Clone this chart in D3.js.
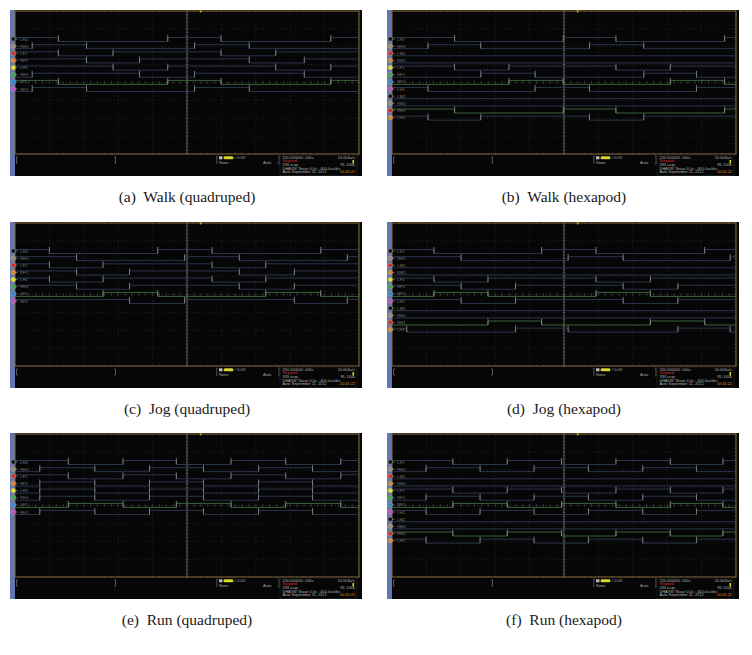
<!DOCTYPE html>
<html><head><meta charset="utf-8">
<script src="https://cdn.jsdelivr.net/npm/d3@7/dist/d3.min.js"></script>
<style>body{margin:0;background:#fff}svg{display:block}</style>
</head><body>
<svg id="c" width="752" height="655"></svg>
<script>
// ---------- DATA ----------
const captions = ["(a)  Walk (quadruped)", "(b)  Walk (hexapod)", "(c)  Jog (quadruped)",
                  "(d)  Jog (hexapod)", "(e)  Run (quadruped)", "(f)  Run (hexapod)"];
const quadLabels = ["LH2", "RH2", "LF1", "RF1", "LH1", "RH1", "LF2", "RF2"];
const hexLabels  = ["LF2", "RH2", "LM1", "RM1", "LF1", "RF1", "RF2", "LH1", "LM2", "RM2", "RH1", "LH2"];
const chanColors = ["#151515", "#9b8b76", "#d42a24", "#e0862a", "#e6e020", "#3aa64a",
                    "#2a8ad6", "#c848c8", "#151515", "#9b8b76", "#d42a24", "#e0862a"];
const quadGreen = [6];
const hexGreen = [6, 10];

// edge times in divisions (0..10); init: 0 = upper level, 1 = lower level
const walkQuadEdges = [[1.26,4.44,5.99,9.18],[0.5,2.08,5.22,6.81],[1.26,2.85,5.99,7.58],[2.08,3.62,6.81,8.41],
                       [2.85,4.44,7.58,9.18],[0.5,3.62,5.22,8.41],[1.26,4.44,5.99,9.18],[0.5,2.08,5.22,6.81]];
const walkQuadInit = [0,1,0,0,0,1,0,1];

const walkHexEdges = [[1.82,4.98,6.51,9.67],[1.05,2.58,5.74,7.32],[],[],[1.82,3.40,6.51,8.09],[2.58,4.16,7.32,8.85],
                      [3.40,4.98,8.09,9.67],[1.05,4.16,5.74,8.85],[],[],[1.82,4.98,6.51,9.67],[1.05,2.58,5.74,7.32]];
const walkHexInit = [0,1,1,1,0,1,1,0,1,1,0,0];

const jogQuadEdges = [[1.0,4.15,5.73,8.89],[1.79,4.93,6.52,9.66],[1.0,2.56,5.73,7.29],[1.79,3.33,6.52,8.12],
                      [1.0,2.56,5.73,7.29],[1.79,3.33,6.52,8.12],[2.56,4.15,7.29,8.89],[3.33,4.93,8.12,9.66]];
const jogQuadInit = [0,0,0,0,0,0,1,0];

const jogHexEdges = [[1.22,4.35,5.93,9.09],[2.01,5.12,6.72,9.83],[],[],[1.22,2.79,5.93,7.51],[2.01,3.59,6.72,8.31],
                     [1.22,2.79,5.93,7.51],[2.01,3.59,6.72,8.31],[],[],[2.79,4.35,7.51,9.09],[0.43,3.59,5.12,8.31,9.83]];
const jogHexInit = [0,0,1,1,0,0,1,0,1,1,1,0];

const runQuadEdges = [[1.55,3.14,4.69,6.28,7.87,9.47],[0.72,2.32,3.91,5.48,7.08,8.65],[1.55,3.14,4.69,6.28,7.87,9.47],
                      [0.72,2.32,3.91,5.48,7.08,8.65],[0.72,2.32,3.91,5.48,7.08,8.65],[0.72,2.32,3.91,5.48,7.08,8.65],
                      [1.55,3.14,4.69,6.28,7.87,9.47],[0.72,2.32,3.91,5.48,7.08,8.65]];
const runQuadInit = [0,1,0,1,1,1,1,1];

const runHexEdges = [[1.77,3.35,4.93,6.51,8.09,9.62],[0.99,2.56,4.13,5.71,7.29,8.85],[],[],
                     [1.77,3.35,4.93,6.51,8.09,9.62],[0.99,2.56,4.13,5.71,7.29,8.85],[1.77,3.35,4.93,6.51,8.09,9.62],
                     [0.99,2.56,4.13,5.71,7.29,8.85],[],[],[1.77,3.35,4.93,6.51,8.09,9.62],[0.99,2.56,4.13,5.71,7.29,8.85]];
const runHexInit = [0,1,1,1,0,1,1,0,1,1,0,0];

const statusLines = ["250.000000 .000s", "Stopped", "333 acqs", "DHAVW      Tbase  0.0s : 400.0us/div", "Auto   September 11, 2012"];
const statusRight = ["10.0kSa/s", "", "RL:100k", "", "10:41:22"];

// ---------- LAYOUT ----------
const panels = [
  {edges: walkQuadEdges, init: walkQuadInit, labels: quadLabels, green: quadGreen, col: 0, row: 0},
  {edges: walkHexEdges,  init: walkHexInit,  labels: hexLabels,  green: hexGreen,  col: 1, row: 0},
  {edges: jogQuadEdges,  init: jogQuadInit,  labels: quadLabels, green: quadGreen, col: 0, row: 1},
  {edges: jogHexEdges,   init: jogHexInit,   labels: hexLabels,  green: hexGreen,  col: 1, row: 1},
  {edges: runQuadEdges,  init: runQuadInit,  labels: quadLabels, green: quadGreen, col: 0, row: 2},
  {edges: runHexEdges,   init: runHexInit,   labels: hexLabels,  green: hexGreen,  col: 1, row: 2}
];
const colX = [10, 387], rowY = [10, 222, 433];
const PW = 352, PH = 166;

const svg = d3.select("#c");

panels.forEach((p, k) => {
  const px = colX[p.col], py = rowY[p.row];
  const g = svg.append("g");
  const gx0 = px + 5, gx1 = px + 349, gy0 = py + 1, gy1 = py + 144;
  const x = d3.scaleLinear().domain([0, 10]).range([gx0, gx1]);
  const yg = d3.scaleLinear().domain([0, 8]).range([gy0, gy1]);
  const yc = d3.scaleLinear().domain([0, 11]).range([py + 29, py + 29 + 7.15 * 11]);

  g.append("rect").attr("x", px).attr("y", py).attr("width", PW).attr("height", PH).attr("fill", "#060606");
  g.append("rect").attr("x", px).attr("y", py).attr("width", 5).attr("height", PH).attr("fill", "#6276b2");

  // dotted grid
  d3.range(1, 10).filter(i => i !== 5).forEach(i => {
    g.append("line").attr("x1", x(i)).attr("x2", x(i)).attr("y1", gy0).attr("y2", gy1)
      .attr("stroke", "#3a3a3a").attr("stroke-width", 0.7).attr("stroke-dasharray", "0.8,2.6");
  });
  d3.range(1, 8).filter(i => i !== 4).forEach(i => {
    g.append("line").attr("x1", gx0).attr("x2", gx1).attr("y1", yg(i)).attr("y2", yg(i))
      .attr("stroke", "#3a3a3a").attr("stroke-width", 0.7).attr("stroke-dasharray", "0.8,2.6");
  });
  // center axes
  g.append("line").attr("x1", x(5)).attr("x2", x(5)).attr("y1", gy0).attr("y2", gy1)
    .attr("stroke", "#7a7a7a").attr("stroke-width", 0.8);
  g.append("line").attr("x1", gx0).attr("x2", gx1).attr("y1", yg(4)).attr("y2", yg(4))
    .attr("stroke", "#505050").attr("stroke-width", 0.6).attr("stroke-dasharray", "0.8,2.6");
  d3.range(0, 50.01, 1).forEach(i => {
    const t = i / 5;
    g.append("line").attr("x1", x(t)).attr("x2", x(t)).attr("y1", yg(4) - 1.3).attr("y2", yg(4) + 1.3)
      .attr("stroke", "#5a5a5a").attr("stroke-width", 0.6);
    g.append("line").attr("x1", x(t)).attr("x2", x(t)).attr("y1", gy0).attr("y2", gy0 + 1.3)
      .attr("stroke", "#5a5a5a").attr("stroke-width", 0.6);
    g.append("line").attr("x1", x(t)).attr("x2", x(t)).attr("y1", gy1 - 1.3).attr("y2", gy1)
      .attr("stroke", "#5a5a5a").attr("stroke-width", 0.6);
  });
  d3.range(0, 40.01, 1).forEach(i => {
    const t = i / 5;
    g.append("line").attr("x1", x(5) - 1.3).attr("x2", x(5) + 1.3).attr("y1", yg(t)).attr("y2", yg(t))
      .attr("stroke", "#5a5a5a").attr("stroke-width", 0.6);
    g.append("line").attr("x1", gx1 - 1.3).attr("x2", gx1).attr("y1", yg(t)).attr("y2", yg(t))
      .attr("stroke", "#5a5a5a").attr("stroke-width", 0.6);
  });
  // border
  g.append("rect").attr("x", gx0).attr("y", gy0).attr("width", gx1 - gx0).attr("height", gy1 - gy0)
    .attr("fill", "none").attr("stroke", "#8a6b3a").attr("stroke-width", 1);
  // trigger marker
  g.append("path").attr("d", `M${x(5.4) - 1.5},${gy0 - 0.5}h3l-1.5,2.5z`).attr("fill", "#e0a020");

  // signals
  p.edges.forEach((edges, i) => {
    const c = yc(i);
    const lvl = s => s ? c + 2.5 : c - 1.5;
    let s = p.init[i];
    const pts = [{t: 0, s: s}];
    edges.forEach(e => { s = 1 - s; pts.push({t: e, s: s}); });
    pts.push({t: 10, s: s});
    const isGreen = p.green.includes(i);
    const line = d3.line().x(d => x(d.t)).y(d => lvl(d.s)).curve(d3.curveStepAfter);
    g.append("path").attr("d", line(pts)).attr("fill", "none")
      .attr("stroke", isGreen ? "#4a7a46" : "#34415c").attr("stroke-width", 0.8);
    edges.forEach(e => {
      g.append("line").attr("x1", x(e)).attr("x2", x(e)).attr("y1", c - 4).attr("y2", c + 2.5)
        .attr("stroke", "#8e9298").attr("stroke-width", 0.8);
    });
    // channel marker and label
    g.append("line").attr("x1", px + 3.3).attr("x2", px + 8).attr("y1", c).attr("y2", c)
      .attr("stroke", "#888").attr("stroke-width", 0.6);
    g.append("circle").attr("cx", px + 3.3).attr("cy", c).attr("r", 2.3)
      .attr("fill", chanColors[i]).attr("stroke", "#aaa").attr("stroke-width", 0.5);
    g.append("text").attr("x", px + 10).attr("y", c + 1.5).text(p.labels[i])
      .attr("font-family", "Liberation Sans, Arial").attr("font-size", 4.3).attr("fill", "#7a7a7a");
  });

  // status area
  const sy = py + 144;
  g.append("path").attr("d", `M${gx0 + 3},${sy + 3}h-1.5v6h1.5 M${px + 104},${sy + 3}h1.5v6h-1.5`)
    .attr("fill", "none").attr("stroke", "#888").attr("stroke-width", 0.6);
  g.append("path").attr("d", `M${px + 208},${sy + 2}h-1.2v8`).attr("fill", "none").attr("stroke", "#888").attr("stroke-width", 0.6);
  g.append("rect").attr("x", px + 209).attr("y", sy + 2.3).attr("width", 3.5).attr("height", 3).attr("fill", "#bbb");
  g.append("rect").attr("x", px + 213.5).attr("y", sy + 2.3).attr("width", 10).attr("height", 3).attr("rx", 1.5).attr("fill", "#d8d830");
  g.append("text").attr("x", px + 225).attr("y", sy + 5.2).text("/ 0.0V")
    .attr("font-family", "Liberation Sans, Arial").attr("font-size", 4).attr("fill", "#aaa");
  g.append("text").attr("x", px + 209).attr("y", sy + 9.5).text("None")
    .attr("font-family", "Liberation Sans, Arial").attr("font-size", 4).attr("fill", "#aaa");
  g.append("text").attr("x", px + 253).attr("y", sy + 9.5).text("Auto")
    .attr("font-family", "Liberation Sans, Arial").attr("font-size", 4).attr("fill", "#aaa");
  g.append("path").attr("d", `M${px + 268},${sy + 2}h1v8h-1`).attr("fill", "none").attr("stroke", "#888").attr("stroke-width", 0.6);
  g.append("rect").attr("x", px + 270).attr("y", sy + 1).attr("width", 77).attr("height", 20.5)
    .attr("fill", "none").attr("stroke", "#2a2a2a").attr("stroke-width", 0.6);
  const ly = [4.5, 8, 12, 15.5, 19];
  statusLines.forEach((t, j) => {
    g.append("text").attr("x", px + 272.5).attr("y", sy + ly[j]).text(t)
      .attr("font-family", "Liberation Sans, Arial").attr("font-size", 3.9)
      .attr("fill", j === 1 ? "#d03030" : "#b0b0b0");
    if (statusRight[j]) {
      g.append("text").attr("x", px + 345).attr("y", sy + ly[j]).attr("text-anchor", "end").text(statusRight[j])
        .attr("font-family", "Liberation Sans, Arial").attr("font-size", 3.9)
        .attr("fill", j === 4 ? "#e09020" : "#b0b0b0");
    }
  });
  g.append("rect").attr("x", px + 342.5).attr("y", sy + 6).attr("width", 1.6).attr("height", 3.5).attr("fill", "#e0d020");

  // caption
  svg.append("text").attr("x", px + PW / 2 + 1).attr("y", py + PH + 26).attr("text-anchor", "middle")
    .attr("font-family", "Liberation Serif, Times New Roman, serif").attr("font-size", 15.5)
    .attr("fill", "#1a1a1a").style("white-space", "pre").text(captions[k]);
});
</script>
</body></html>
